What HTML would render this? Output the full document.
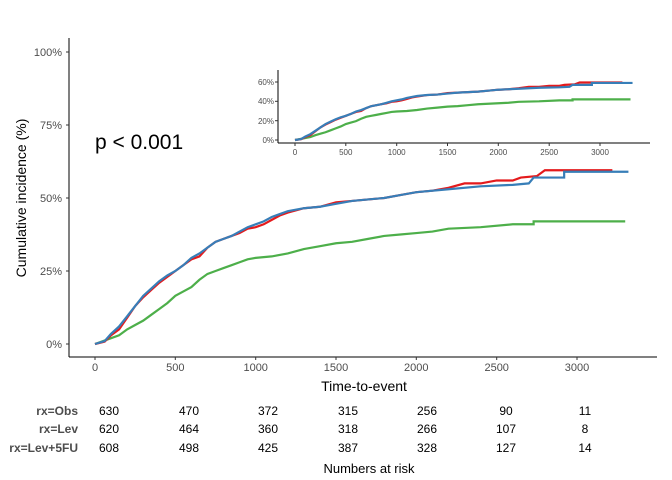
<!DOCTYPE html>
<html><head><meta charset="utf-8"><style>
body{margin:0;background:#fff}
svg{display:block;font-family:"Liberation Sans",sans-serif}
</style></head><body>
<svg width="672" height="480" viewBox="0 0 672 480">
<defs>
<g id="red"><polyline fill="none" stroke="#e41a1c" stroke-width="2.2" vector-effect="non-scaling-stroke" points="0,0 60,0.8 100,3 150,5 200,9 250,13 300,16 350,18.5 400,21 450,23 500,25 550,27 600,29 650,30 700,33 750,35 800,36 850,37 900,38 950,39.5 1000,40 1050,41 1100,42.5 1150,44 1200,45 1300,46.5 1400,47 1500,48.5 1600,49 1700,49.5 1800,50 1900,51 2000,52 2100,52.5 2200,53.5 2300,55 2400,55 2500,56 2600,56 2650,57 2750,57.5 2800,59.5 3220,59.5"/></g>
<g id="blue"><polyline fill="none" stroke="#377eb8" stroke-width="2.2" vector-effect="non-scaling-stroke" points="0,0 60,1 100,3.5 150,6 200,9.5 250,13 300,16.5 350,19 400,21.5 450,23.5 500,25 550,27 600,29.5 650,31 700,33 750,35 800,36 850,37 900,38.5 950,40 1000,41 1050,42 1100,43.5 1150,44.5 1200,45.5 1300,46.5 1400,47 1500,48 1600,49 1700,49.5 1800,50 1900,51 2000,52 2200,53 2400,54 2600,54.5 2700,55 2730,57 2920,57 2920,59 3320,59"/></g>
<g id="green"><polyline fill="none" stroke="#4daf4a" stroke-width="2.2" vector-effect="non-scaling-stroke" points="0,0 100,2 150,3 200,5 250,6.5 300,8 350,10 400,12 450,14 500,16.5 550,18 600,19.5 650,22 700,24 750,25 800,26 850,27 900,28 950,29 1000,29.5 1100,30 1200,31 1300,32.5 1400,33.5 1500,34.5 1600,35 1700,36 1800,37 1900,37.5 2000,38 2100,38.5 2200,39.5 2400,40 2600,41 2730,41 2730,42 3300,42"/></g>
</defs>
<line x1="69" y1="38" x2="69" y2="357" stroke="#000" stroke-width="1"/>
<line x1="69" y1="357" x2="657" y2="357" stroke="#000" stroke-width="1"/>
<g font-size="11" fill="#4d4d4d" text-anchor="end">
<text x="62" y="56">100%</text><text x="62" y="129">75%</text><text x="62" y="202">50%</text><text x="62" y="275">25%</text><text x="62" y="348">0%</text>
</g>
<g stroke="#333"><line x1="66" y1="52" x2="69" y2="52"/><line x1="66" y1="125" x2="69" y2="125"/><line x1="66" y1="198" x2="69" y2="198"/><line x1="66" y1="271" x2="69" y2="271"/><line x1="66" y1="344" x2="69" y2="344"/>
<line x1="95" y1="357" x2="95" y2="360"/><line x1="175.3" y1="357" x2="175.3" y2="360"/><line x1="255.7" y1="357" x2="255.7" y2="360"/><line x1="336" y1="357" x2="336" y2="360"/><line x1="416.3" y1="357" x2="416.3" y2="360"/><line x1="496.7" y1="357" x2="496.7" y2="360"/><line x1="577" y1="357" x2="577" y2="360"/></g>
<g font-size="11" fill="#4d4d4d" text-anchor="middle">
<text x="95" y="371">0</text><text x="175.3" y="371">500</text><text x="255.7" y="371">1000</text><text x="336" y="371">1500</text><text x="416.3" y="371">2000</text><text x="496.7" y="371">2500</text><text x="577" y="371">3000</text>
</g>
<text x="364" y="391" font-size="14" text-anchor="middle">Time-to-event</text>
<text transform="translate(26,198) rotate(-90)" font-size="14" text-anchor="middle">Cumulative incidence (%)</text>
<text x="95" y="149" font-size="21">p &lt; 0.001</text>
<g transform="translate(95,344) scale(0.16067,-2.92)"><use href="#green"/><use href="#red"/><use href="#blue"/></g>
<line x1="278" y1="70" x2="278" y2="143" stroke="#000"/>
<line x1="278" y1="143" x2="650" y2="143" stroke="#000"/>
<g font-size="8" fill="#4d4d4d" text-anchor="end">
<text x="274" y="85">60%</text><text x="274" y="104">40%</text><text x="274" y="124">20%</text><text x="274" y="143">0%</text>
</g>
<g stroke="#333"><line x1="275" y1="82" x2="278" y2="82"/><line x1="275" y1="101.3" x2="278" y2="101.3"/><line x1="275" y1="120.7" x2="278" y2="120.7"/><line x1="275" y1="140" x2="278" y2="140"/>
<line x1="295" y1="143" x2="295" y2="146"/><line x1="345.8" y1="143" x2="345.8" y2="146"/><line x1="396.7" y1="143" x2="396.7" y2="146"/><line x1="447.5" y1="143" x2="447.5" y2="146"/><line x1="498.3" y1="143" x2="498.3" y2="146"/><line x1="549.2" y1="143" x2="549.2" y2="146"/><line x1="600" y1="143" x2="600" y2="146"/></g>
<g font-size="8" fill="#4d4d4d" text-anchor="middle">
<text x="295" y="155">0</text><text x="345.8" y="155">500</text><text x="396.7" y="155">1000</text><text x="447.5" y="155">1500</text><text x="498.3" y="155">2000</text><text x="549.2" y="155">2500</text><text x="600" y="155">3000</text>
</g>
<g transform="translate(295,140) scale(0.10167,-0.967)"><use href="#green"/><use href="#red"/><use href="#blue"/></g>
<g font-size="12" font-weight="bold" fill="#4d4d4d" text-anchor="end">
<text x="78" y="415">rx=Obs</text><text x="78" y="433">rx=Lev</text><text x="78" y="452">rx=Lev+5FU</text>
</g>
<g font-size="12" fill="#000" text-anchor="middle">
<text x="109" y="415">630</text><text x="189" y="415">470</text><text x="268" y="415">372</text><text x="348" y="415">315</text><text x="427" y="415">256</text><text x="506" y="415">90</text><text x="585" y="415">11</text>
<text x="109" y="433">620</text><text x="189" y="433">464</text><text x="268" y="433">360</text><text x="348" y="433">318</text><text x="427" y="433">266</text><text x="506" y="433">107</text><text x="585" y="433">8</text>
<text x="109" y="452">608</text><text x="189" y="452">498</text><text x="268" y="452">425</text><text x="348" y="452">387</text><text x="427" y="452">328</text><text x="506" y="452">127</text><text x="585" y="452">14</text>
</g>
<text x="369" y="473" font-size="13" text-anchor="middle">Numbers at risk</text>
</svg>
</body></html>
